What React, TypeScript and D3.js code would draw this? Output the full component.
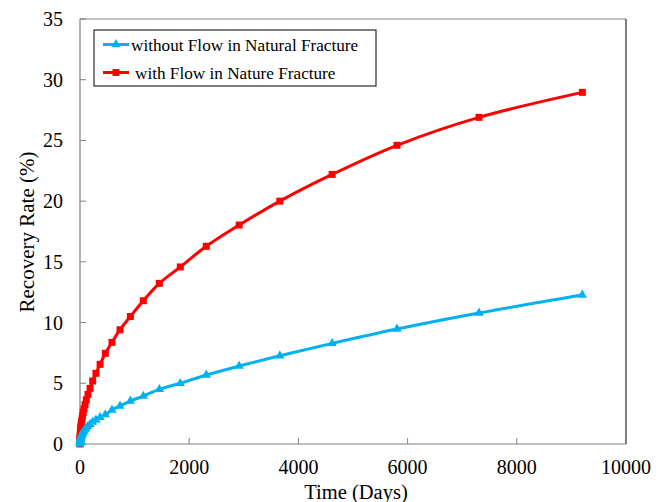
import React from "react";
import * as d3 from "d3";

// Simulation output times (days) and recovery rates (%)
const days = [
  0, 1.8, 2.3, 2.9, 3.7, 4.6, 5.8, 7.3, 9.2, 11.6, 14.6, 18.4, 23, 29, 37, 46, 58, 73, 92, 116,
  146, 184, 232, 292, 368, 464, 586, 733, 922, 1160, 1453, 1837, 2313, 2915, 3660, 4618, 5806,
  7308, 9200,
];
const recoveryNoFlow = [
  0, 0.12, 0.15, 0.19, 0.23, 0.27, 0.32, 0.37, 0.42, 0.48, 0.54, 0.6, 0.67, 0.74, 0.82, 0.9,
  0.99, 1.08, 1.2, 1.33, 1.47, 1.62, 1.8, 1.98, 2.2, 2.42, 2.8, 3.13, 3.54, 3.95, 4.5, 5.0,
  5.68, 6.42, 7.27, 8.29, 9.47, 10.79, 12.27,
];
const recoveryWithFlow = [
  0, 0.3, 0.38, 0.47, 0.56, 0.66, 0.77, 0.88, 1.0, 1.15, 1.3, 1.47, 1.65, 1.85, 2.07, 2.32,
  2.6, 2.9, 3.24, 3.64, 4.08, 4.58, 5.19, 5.82, 6.56, 7.47, 8.37, 9.41, 10.5, 11.8, 13.23,
  14.58, 16.28, 18.03, 20.0, 22.2, 24.6, 26.9, 28.96,
];

const seriesNames = ["without Flow in Natural Fracture", "with Flow in Nature Fracture"];
const xTicks = [0, 2000, 4000, 6000, 8000, 10000];
const yTicks = [0, 5, 10, 15, 20, 25, 30, 35];

const W = 667;
const H = 502;
const left = 80;
const right = 626;
const top = 19;
const bottom = 444;

const BLUE = "#00B0F0";
const RED = "#FF0000";
const FONT = "'Times New Roman', Tinos, 'Liberation Serif', 'DejaVu Serif', serif";
const txt = { fontFamily: FONT };

export default function App() {
  const x = d3.scaleLinear().domain([0, 10000]).range([left, right]);
  const y = d3.scaleLinear().domain([0, 35]).range([bottom, top]);

  const line = d3
    .line<number>()
    .x((_, i) => x(days[i]))
    .y((v) => y(v))
    .curve(d3.curveCatmullRom.alpha(0.5));

  const tri = d3.symbol().type(d3.symbolTriangle).size(38)() as string;
  const sq = 7;

  return (
    <svg
      width={W}
      height={H}
      viewBox={`0 0 ${W} ${H}`}
      style={{ position: "absolute", left: 0, top: 0, background: "#fff", fontFamily: FONT }}
    >
      <rect x={0} y={0} width={W} height={H} fill="#fff" />

      {/* plot frame */}
      <line x1={left} y1={top} x2={right} y2={top} stroke="#808080" strokeWidth={1} />
      <line x1={right} y1={top} x2={right} y2={bottom} stroke="#000" strokeWidth={1} />

      {/* y axis */}
      <line x1={left} y1={top} x2={left} y2={bottom} stroke="#808080" strokeWidth={1.2} />
      {yTicks.map((t) => (
        <g key={`y${t}`}>
          <line x1={left} x2={left + 6} y1={y(t)} y2={y(t)} stroke="#808080" strokeWidth={1} />
          <text x={63} y={y(t) + 7} textAnchor="end" fontSize={20} fill="#000" style={txt}>
            {t}
          </text>
        </g>
      ))}

      {/* x axis */}
      <line x1={left} y1={bottom} x2={right} y2={bottom} stroke="#808080" strokeWidth={1.2} />
      {xTicks.map((t) => (
        <g key={`x${t}`}>
          <line x1={x(t)} x2={x(t)} y1={bottom} y2={bottom - 6} stroke="#808080" strokeWidth={1} />
          <text x={x(t)} y={474} textAnchor="middle" fontSize={20} fill="#000" style={txt}>
            {t}
          </text>
        </g>
      ))}

      <text x={356} y={499} textAnchor="middle" fontSize={20.5} fill="#000" style={txt}>
        Time (Days)
      </text>
      <text
        transform={`translate(34, 232) rotate(-90)`}
        textAnchor="middle"
        fontSize={21}
        fill="#000"
        style={txt}
      >
        Recovery Rate (%)
      </text>

      {/* series: with flow */}
      <path d={line(recoveryWithFlow) || ""} fill="none" stroke={RED} strokeWidth={3} />
      {recoveryWithFlow.map((v, i) => (
        <rect
          key={`r${i}`}
          x={x(days[i]) - sq / 2}
          y={y(v) - sq / 2}
          width={sq}
          height={sq}
          fill={RED}
        />
      ))}

      {/* series: without flow */}
      <path d={line(recoveryNoFlow) || ""} fill="none" stroke={BLUE} strokeWidth={3} />
      {recoveryNoFlow.map((v, i) => (
        <path
          key={`b${i}`}
          d={tri}
          transform={`translate(${x(days[i])}, ${y(v)})`}
          fill={BLUE}
        />
      ))}

      {/* legend */}
      <rect x={94} y={30} width={282} height={56} fill="#fff" stroke="#000" strokeWidth={1} />
      <line x1={103} x2={129} y1={44.5} y2={44.5} stroke={BLUE} strokeWidth={3} />
      <path d={tri} transform="translate(116, 44.5)" fill={BLUE} />
      <text x={131} y={50.5} fontSize={17.2} fill="#000" style={txt}>
        {seriesNames[0]}
      </text>
      <line x1={103} x2={129} y1={72.5} y2={72.5} stroke={RED} strokeWidth={3} />
      <rect x={116 - sq / 2} y={72.5 - sq / 2} width={sq} height={sq} fill={RED} />
      <text x={135} y={78.5} fontSize={17.2} fill="#000" style={txt}>
        {seriesNames[1]}
      </text>
    </svg>
  );
}
